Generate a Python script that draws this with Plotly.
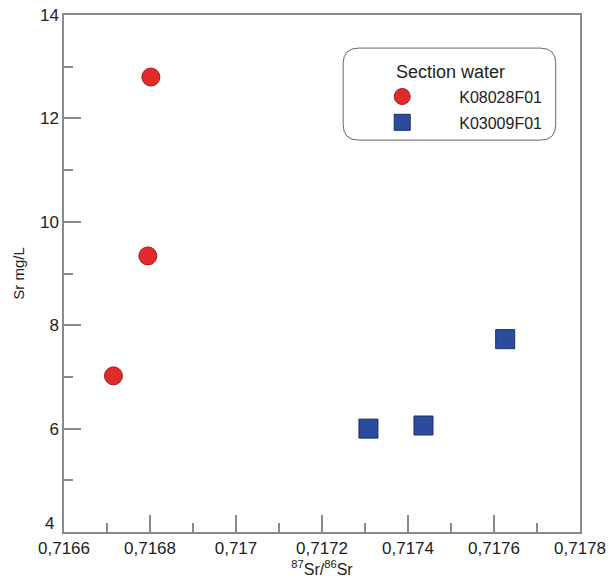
import plotly.graph_objects as go

# Data
k08_x = [0.716802, 0.716795, 0.716715]
k08_y = [12.8, 9.34, 7.02]
k03_x = [0.717626, 0.717308, 0.717436]
k03_y = [7.73, 6.00, 6.06]

x_tickvals = [0.7166, 0.7168, 0.7170, 0.7172, 0.7174, 0.7176, 0.7178]
x_ticktext = ["0,7166", "0,7168", "0,717", "0,7172", "0,7174", "0,7176", "0,7178"]
y_tickvals = [6, 8, 10, 12, 14]
y_bottom_label = "4"

FONT = "Liberation Sans, Arial, sans-serif"
AXC = "#8a8a8a"

fig = go.Figure()
fig.add_trace(go.Scatter(
    x=k08_x, y=k08_y, mode="markers", name="K08028F01", legendgroup="a",
    marker=dict(symbol="circle", size=18, color="#e32a2a",
                line=dict(color="#a01d1d", width=1)),
))
fig.add_trace(go.Scatter(
    x=k03_x, y=k03_y, mode="markers", name="K03009F01", legendgroup="b",
    marker=dict(symbol="square", size=19, color="#2b4b9e",
                line=dict(color="#1c2c60", width=1)),
))

# rounded legend frame
x0, x1, y0, y1 = 0.541, 0.953, 0.758, 0.936
rx, ry = 0.03, 0.03
path = (f"M {x0+rx},{y0} L {x1-rx},{y0} Q {x1},{y0} {x1},{y0+ry} "
        f"L {x1},{y1-ry} Q {x1},{y1} {x1-rx},{y1} L {x0+rx},{y1} "
        f"Q {x0},{y1} {x0},{y1-ry} L {x0},{y0+ry} Q {x0},{y0} {x0+rx},{y0} Z")
fig.add_shape(type="path", xref="paper", yref="paper", path=path,
              line=dict(color="#666666", width=1), fillcolor="white", layer="below")

fig.add_annotation(text="Section water", xref="paper", yref="paper",
                   x=(450 - 64) / 516, y=(532 - 72) / 517, showarrow=False,
                   xanchor="center", yanchor="middle",
                   font=dict(size=18, family=FONT, color="#222222"))
# bottom y tick label (raised slightly as in the reference)
fig.add_annotation(text=y_bottom_label, xref="paper", yref="y", x=0, y=4,
                   xanchor="right", yanchor="middle", xshift=-8, yshift=9,
                   showarrow=False, font=dict(size=17, family=FONT, color="#222222"))

fig.update_layout(
    width=611, height=583,
    margin=dict(l=64, r=31, t=15, b=51),
    paper_bgcolor="white", plot_bgcolor="white",
    font=dict(family=FONT, color="#222222", size=17),
    separators=",.",
    showlegend=True,
    legend=dict(
        x=0.545, y=0.875, xanchor="left", yanchor="top",
        bgcolor="rgba(0,0,0,0)", borderwidth=0,
        font=dict(size=16, family=FONT),
        itemwidth=104, tracegroupgap=2,
    ),
    xaxis=dict(
        range=[0.7166, 0.7178], tickvals=x_tickvals, ticktext=x_ticktext,
        automargin=False,
        showgrid=False, zeroline=False, showline=True, mirror=True,
        linecolor=AXC, linewidth=1.5, ticks="inside", ticklen=17, tickwidth=1.5,
        tickcolor=AXC, tickfont=dict(size=17),
        minor=dict(dtick=0.0001, ticks="inside", ticklen=9, tickcolor=AXC, tickwidth=1.5),
        title=dict(text="<sup>87</sup>Sr/<sup>86</sup>Sr", font=dict(size=16), standoff=4),
    ),
    yaxis=dict(
        range=[4, 14], tickvals=y_tickvals,
        automargin=False,
        showgrid=False, zeroline=False, showline=True, mirror=True,
        linecolor=AXC, linewidth=1.5, ticks="inside", ticklen=17, tickwidth=1.5,
        tickcolor=AXC, tickfont=dict(size=17),
        minor=dict(dtick=1, ticks="inside", ticklen=9, tickcolor=AXC, tickwidth=1.5),
        title=dict(text="Sr mg/L", font=dict(size=15), standoff=12),
    ),
)

fig.write_html("out.html", config={"displayModeBar": False},
               post_script="document.body.style.margin='0';document.body.style.padding='0';")
